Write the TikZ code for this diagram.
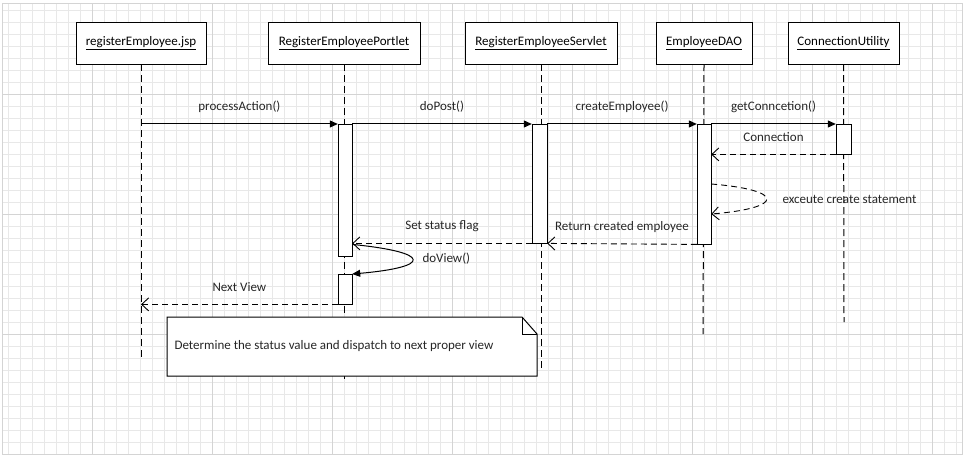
\documentclass[tikz,border=0pt]{standalone}
\usepackage{fontspec}
\setmainfont{Carlito}
\usepackage{tikz}
\usepackage{xcolor}
\usetikzlibrary{arrows.meta}

\definecolor{minorgrid}{HTML}{E8E8E8}
\definecolor{majorgrid}{HTML}{D4D4D4}

\begin{document}
\begin{tikzpicture}[x=1pt,y=-1pt,font=\fontsize{13}{15}\selectfont]
            \tikzset{Actor/.style={%
                shape=rectangle,%
                draw=black,%
                fill=white,%
                minimum height=42pt,%
                inner sep=3pt,%
            },
            Act/.style={%
                shape=rectangle,%
                draw=black,%
                fill=white,%
                minimum width=14pt,%
                inner sep=0pt,%
                anchor=north,%
            },
            LifeLine/.style={line width=1pt,dash pattern=on 7pt off 4pt},%
            Call/.style={-{Triangle[length=8pt,width=7pt]},line width=1pt},%
            Reply/.style={-{Straight Barb[length=7pt,width=13pt]},line width=0.9pt,dash pattern=on 6pt off 4pt},%
            MsgLabel/.style={midway,yshift=17pt,text=black!85},%
            Txt/.style={anchor=west,text=black!85},%
            }
            \useasboundingbox (0,0) rectangle (965,457);

            % grid
            \foreach \i in {0,...,79} \draw[minorgrid,line width=0.8pt] (8.7+12*\i,4) -- (8.7+12*\i,454.5);
            \foreach \i in {0,...,36} \draw[minorgrid,line width=0.8pt] (2,10.3+12*\i) -- (962,10.3+12*\i);
            \foreach \i in {0,...,7} \draw[majorgrid,line width=0.8pt] (92.7+120*\i,4) -- (92.7+120*\i,454.5);
            \foreach \i in {0,...,2} \draw[majorgrid,line width=0.8pt] (2,94.3+120*\i) -- (962,94.3+120*\i);
            \draw[majorgrid,line width=1pt] (2,4) rectangle (962,454.5);

            \node[Actor, minimum width=130pt] (jsp) at (141,43) {\underline{registerEmployee.jsp}};
            \node[Actor, minimum width=152pt] (portlet) at (344,43) {\underline{RegisterEmployeePortlet}};
            \node[Actor, minimum width=152pt] (servlet) at (541,43) {\underline{RegisterEmployeeServlet}};
            \node[Actor, minimum width=96pt] (dao) at (704,43) {\underline{EmployeeDAO}};
            \node[Actor, minimum width=111pt] (util) at (843.5,43) {\underline{ConnectionUtility}};

            \coordinate (jspEnd) at (141,358);
            \coordinate (portletEnd) at (344,383);
            \coordinate (servletEnd) at (541,370);
            \coordinate (daoEnd) at (703,334);
            \coordinate (utilEnd) at (844,322);

            \draw[LifeLine] (jsp.south) -- (jspEnd);
            \draw[LifeLine] (portlet.south) -- (portletEnd);
            \draw[LifeLine] (servlet.south) -- (servletEnd);
            \draw[LifeLine] (dao.south) -- (daoEnd);
            \draw[LifeLine] (util.south) -- (utilEnd);

            \node[Act, minimum height=132pt] (pa1) at (345,124) {};
            \node[Act, minimum height=30pt] (pa2) at (345,274) {};
            \node[Act, minimum width=15pt, minimum height=119pt] (sa1) at (539.5,124) {};
            \node[Act, minimum height=120pt] (da1) at (704,124) {};
            \node[Act, minimum width=15pt, minimum height=30pt] (ua1) at (843.5,124) {};

            \path (jsp.south |- pa1.north west) edge[Call] node[MsgLabel]{processAction()} (pa1.north west);
            \path (pa1.north east) edge[Call] node[MsgLabel]{doPost()} (sa1.north west);
            \path (sa1.north east) edge[Call] node[MsgLabel]{createEmployee()} (da1.north west);
            \path (da1.north east) edge[Call] node[MsgLabel]{getConncetion()} (ua1.north west);
            \path (ua1.south west) edge[Reply] node[MsgLabel]{Connection} (ua1.south west -| da1.east);

            \draw[Reply] ([yshift=-60pt]da1.north east) .. controls +(74,6) and +(74,-6) .. ([yshift=-90pt]da1.north east);
            \node[Txt] (execLbl) at (779,199) {exceute create statement};

            \path (da1.south west) edge[Reply] node[MsgLabel]{Return created employee} (sa1.south east);
            \path (sa1.south west) edge[Reply] node[MsgLabel]{Set status flag} (sa1.south west -| pa1.east);

            \draw[Call] ([yshift=12pt]pa1.south east) .. controls +(80,8) and +(80,-7) .. (pa2.north east);
            \node[Txt] (viewLbl) at (419,259) {doView()};

            \path (pa2.south west) edge[Reply] node[MsgLabel]{Next View} (jsp.south |- pa2.south west);

            % note
            \draw[fill=white,line width=1pt] (167,317) -- (522,317) -- (537,334) -- (537,376) -- (167,376) -- cycle;
            \draw[line width=0.8pt] (522,317) -- (522,334) -- (537,334);
            \node[Txt] (noteText) at (171,346) {Determine the status value and dispatch to next proper view};
        \end{tikzpicture}
\end{document}
